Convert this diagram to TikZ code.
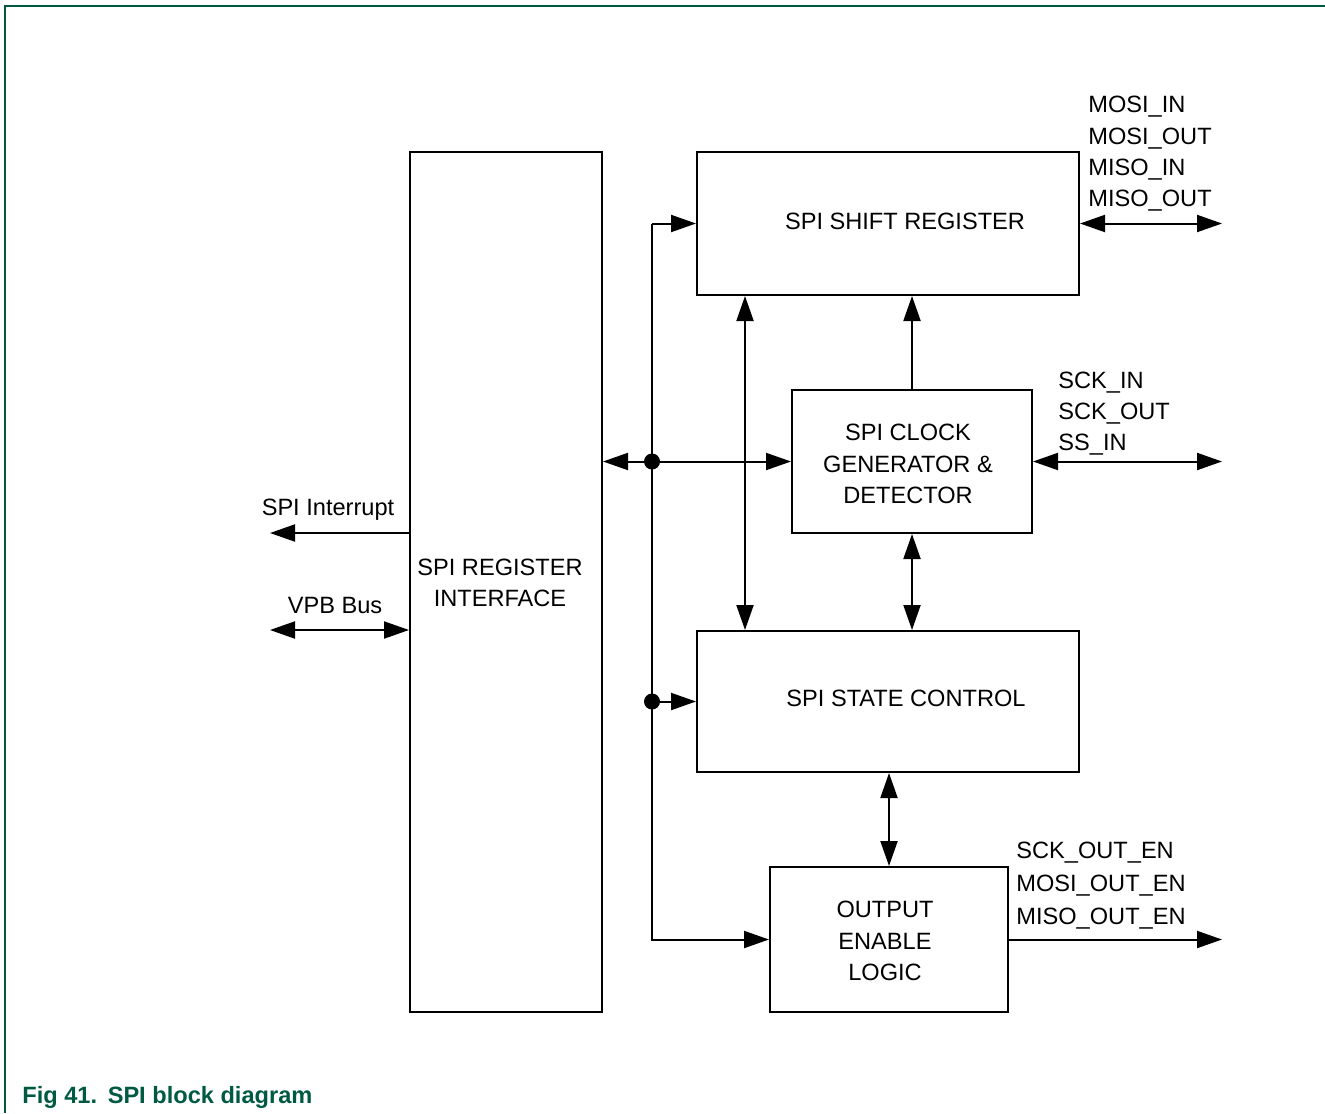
\documentclass[tikz,border=0pt]{standalone}
\usepackage{fontspec}
\setmainfont{Liberation Sans}
\usetikzlibrary{arrows.meta}
\definecolor{nxpgreen}{HTML}{005A41}
\tikzset{
  blk/.style={draw, line width=1pt, inner sep=0pt},
  arr/.style={line width=1pt, -{Triangle[length=12.5pt, width=8.5pt]}},
  darr/.style={line width=1pt, {Triangle[length=12.5pt, width=8.5pt]}-{Triangle[length=12.5pt, width=8.5pt]}},
  sig/.style={anchor=west, inner sep=0pt, align=left}
}
\begin{document}
\begin{tikzpicture}[x=0.5pt, y=-0.5pt, font=\fontsize{11.8}{15.6}\selectfont]
  \useasboundingbox (0,0) rectangle (1325,1113);
  % Frame
  \draw[nxpgreen, line width=1pt] (1325,6) -- (5,6) -- (5,1113);
  % Blocks
  \node[blk, minimum width=96pt, minimum height=430pt] (regif) at (506,582) {};
  \node[align=center] (regiftxt) at (500,583) {SPI REGISTER\\INTERFACE};
  \node[blk, minimum width=191pt, minimum height=71.5pt] (shift) at (888,223.5) {};
  \node (shifttxt) at (905,221) {SPI SHIFT REGISTER};
  \node[blk, minimum width=120pt, minimum height=71.5pt] (clock) at (912,461.5) {};
  \node[align=center] (clocktxt) at (908,464) {SPI CLOCK\\GENERATOR \&\\DETECTOR};
  \node[blk, minimum width=191pt, minimum height=70.5pt] (state) at (888,701.5) {};
  \node (statetxt) at (906,698) {SPI STATE CONTROL};
  \node[blk, minimum width=119pt, minimum height=72.5pt] (outl) at (889,939.5) {};
  \node[align=center] (outltxt) at (885,941) {OUTPUT\\ENABLE\\LOGIC};
  % Helper positions
  \coordinate (bus) at (652,0);
  \coordinate (vx) at (745,0);
  \coordinate (rx) at (1222,0);
  \coordinate (lx) at (270,0);
  \coordinate (irq) at (0,533);
  \coordinate (vpb) at (0,630);
  % Internal bus
  \draw[arr] (bus |- shift.west) -- (shift.west);
  \draw[arr] (bus |- shift.west) -- (bus |- outl.west) -- (outl.west);
  \draw[darr] (regif.east |- clock.west) -- (clock.west);
  \draw[arr] (bus |- state.west) -- (state.west);
  \fill (bus |- clock.west) circle (8);
  \fill (bus |- state.west) circle (8);
  % Between blocks
  \draw[darr] (vx |- shift.south) -- (vx |- state.north);
  \draw[arr] (clock.north) -- (clock.north |- shift.south);
  \draw[darr] (clock.south) -- (clock.south |- state.north);
  \draw[darr] (outl.north) -- (outl.north |- state.south);
  % External signals
  \draw[darr] (shift.east) -- (shift.east -| rx);
  \draw[darr] (clock.east) -- (clock.east -| rx);
  \draw[arr] (outl.east) -- (outl.east -| rx);
  \draw[arr] (regif.west |- irq) -- (lx |- irq);
  \draw[darr] (lx |- vpb) -- (regif.west |- vpb);
  % Signal names
  \node (irqlbl) at (328,510) {SPI Interrupt};
  \node (vpblbl) at (335,605) {VPB Bus};
  \node[sig, font=\fontsize{11.8}{15.7}\selectfont] (mosi) at (1088,154) {MOSI\_IN\\MOSI\_OUT\\MISO\_IN\\MISO\_OUT};
  \node[sig, font=\fontsize{11.8}{15.5}\selectfont] (sck) at (1058,414) {SCK\_IN\\SCK\_OUT\\SS\_IN};
  \node[sig, font=\fontsize{11.8}{16.5}\selectfont] (oen) at (1016,886) {SCK\_OUT\_EN\\MOSI\_OUT\_EN\\MISO\_OUT\_EN};
  % Caption
  \node[anchor=base west, inner sep=0pt, text=nxpgreen, font=\fontsize{11.8}{14}\selectfont\bfseries] (cap) at (22,1103) {Fig 41.\hspace{0.45em}SPI block diagram};
\end{tikzpicture}
\end{document}
